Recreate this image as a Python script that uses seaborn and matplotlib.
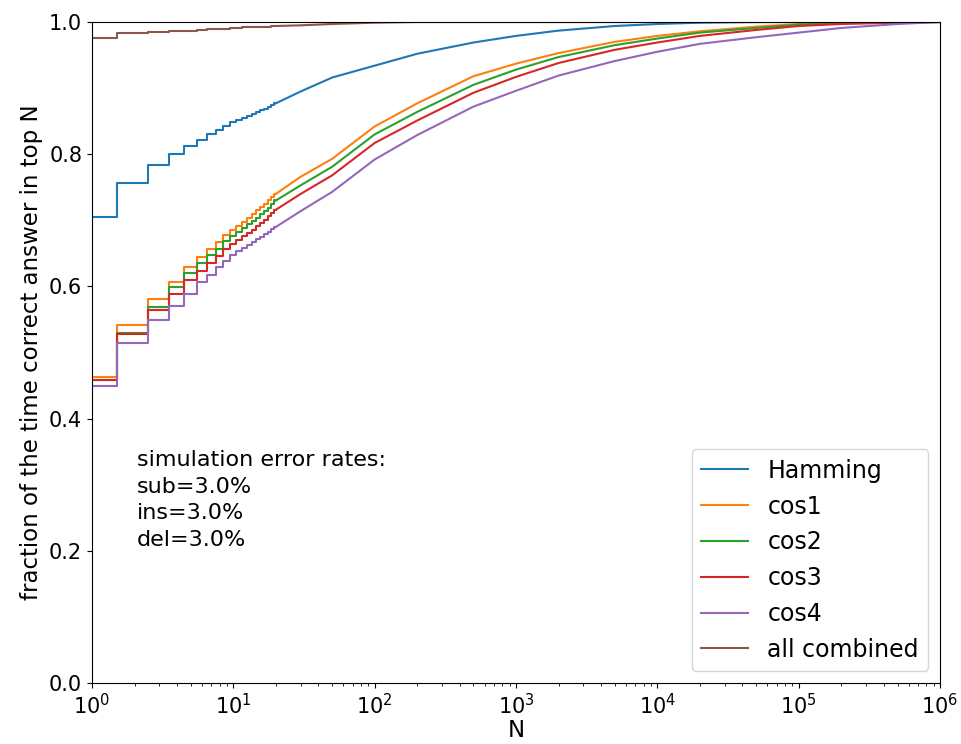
import matplotlib
matplotlib.use("Agg")
import matplotlib.pyplot as plt
import seaborn as sns

labels = ["Hamming", "cos1", "cos2", "cos3", "cos4", "all combined"]
colors = ["#1f77b4", "#ff7f0e", "#2ca02c", "#d62728", "#9467bd", "#8c564b"]

# ranks 1..20 are drawn as steps
n_low = list(range(1, 21))
hamming_low = [0.705, 0.757, 0.784, 0.800, 0.813, 0.822, 0.830, 0.837, 0.843, 0.848,
               0.852, 0.855, 0.858, 0.861, 0.864, 0.867, 0.869, 0.872, 0.874, 0.877]
cos1_low = [0.463, 0.542, 0.581, 0.607, 0.629, 0.644, 0.656, 0.667, 0.678, 0.685,
            0.692, 0.698, 0.704, 0.710, 0.715, 0.720, 0.725, 0.730, 0.735, 0.740]
cos2_low = [0.459, 0.530, 0.569, 0.599, 0.620, 0.636, 0.648, 0.657, 0.668, 0.676,
            0.682, 0.688, 0.694, 0.699, 0.704, 0.709, 0.714, 0.719, 0.724, 0.730]
cos3_low = [0.458, 0.528, 0.565, 0.588, 0.610, 0.624, 0.636, 0.646, 0.656, 0.664,
            0.670, 0.676, 0.681, 0.686, 0.691, 0.696, 0.701, 0.706, 0.711, 0.716]
cos4_low = [0.449, 0.515, 0.549, 0.570, 0.588, 0.606, 0.617, 0.630, 0.639, 0.648,
            0.653, 0.658, 0.663, 0.667, 0.671, 0.675, 0.679, 0.683, 0.687, 0.690]
all_low = [0.976, 0.983, 0.985, 0.986, 0.987, 0.988, 0.989, 0.990, 0.990, 0.991,
           0.991, 0.992, 0.992, 0.992, 0.993, 0.993, 0.993, 0.993, 0.994, 0.994]

# larger ranks
n_high = [20, 30, 50, 100, 200, 500, 1e3, 2e3, 5e3, 1e4, 2e4, 5e4, 1e5, 2e5, 5e5, 1e6]
hamming_high = [0.877, 0.895, 0.916, 0.934, 0.952, 0.969, 0.979, 0.987, 0.994, 0.997,
                0.999, 1.0, 1.0, 1.0, 1.0, 1.0]
cos1_high = [0.740, 0.766, 0.793, 0.842, 0.877, 0.918, 0.937, 0.953, 0.970, 0.979,
             0.986, 0.993, 0.997, 0.999, 1.0, 1.0]
cos2_high = [0.730, 0.753, 0.781, 0.830, 0.864, 0.905, 0.928, 0.947, 0.965, 0.975,
             0.984, 0.991, 0.996, 0.999, 1.0, 1.0]
cos3_high = [0.716, 0.740, 0.768, 0.817, 0.851, 0.893, 0.917, 0.938, 0.958, 0.969,
             0.979, 0.988, 0.994, 0.997, 0.999, 1.0]
cos4_high = [0.690, 0.714, 0.743, 0.792, 0.829, 0.872, 0.896, 0.919, 0.941, 0.955,
             0.967, 0.977, 0.984, 0.991, 0.997, 1.0]
all_high = [0.994, 0.995, 0.997, 0.999, 1.0, 1.0, 1.0, 1.0, 1.0, 1.0,
            1.0, 1.0, 1.0, 1.0, 1.0, 1.0]

low_series = [hamming_low, cos1_low, cos2_low, cos3_low, cos4_low, all_low]
high_series = [hamming_high, cos1_high, cos2_high, cos3_high, cos4_high, all_high]

fig = plt.figure(figsize=(9.62, 7.44), dpi=100)
ax = fig.add_axes([0.0956, 0.082, 0.8816, 0.8884])
ax.set_xscale("log")

handles = []
for lab, c, lo, hi in zip(labels, colors, low_series, high_series):
    sns.lineplot(x=n_low, y=lo, color=c, lw=1.5, drawstyle="steps-mid", ax=ax)
    handles.append(ax.lines[-1])
    sns.lineplot(x=n_high, y=hi, color=c, lw=1.5, ax=ax)

ax.set_xlim(1, 1e6)
ax.set_ylim(0, 1)
ax.set_xlabel("N", fontsize=16.5, labelpad=1)
ax.set_ylabel("fraction of the time correct answer in top N", fontsize=16.5)
ax.tick_params(labelsize=15)
ax.legend(handles, labels, loc="lower right", fontsize=17)
ax.text(0.053, 0.352, "simulation error rates:\nsub=3.0%\nins=3.0%\ndel=3.0%",
        transform=ax.transAxes, fontsize=16, va="top", ha="left", linespacing=1.4)

fig.savefig("out.png", dpi=100)
